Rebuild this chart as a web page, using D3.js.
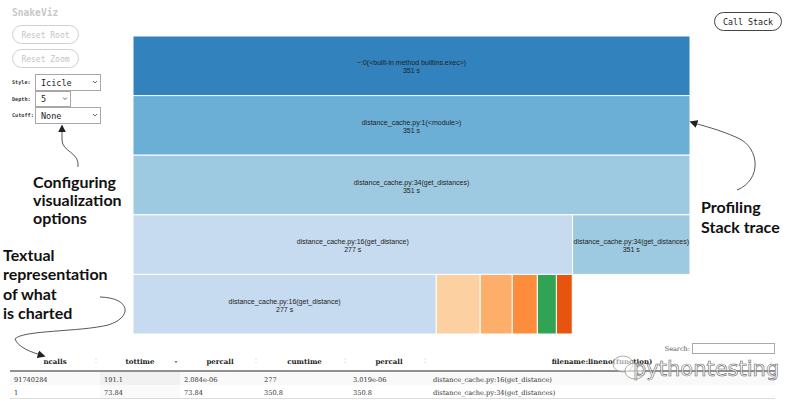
<!DOCTYPE html>
<html><head><meta charset="utf-8">
<script src="https://cdn.jsdelivr.net/npm/d3@7"></script>
<style>
html,body{margin:0;padding:0;background:#fff;}
svg{display:block;}
</style></head>
<body>
<svg id="chart" width="788" height="401"></svg>
<script>
// ---------------- DATA ----------------
// icicle nodes (depth, name, width value in seconds, label time)
const nodeDepths = [0, 1, 2, 3, 3, 4, 4, 4, 4, 4, 4];
const nodeNames = [
  "~:0(<built-in method builtins.exec>)",
  "distance_cache.py:1(<module>)",
  "distance_cache.py:34(get_distances)",
  "distance_cache.py:16(get_distance)",
  "distance_cache.py:34(get_distances)",
  "distance_cache.py:16(get_distance)",
  "", "", "", "", ""
];
const nodeValues = [351, 351, 351, 277, 74, 191.1, 27.7, 20.2, 15.8, 12.0, 10.0];
const nodeTimes = ["351 s", "351 s", "351 s", "277 s", "351 s", "277 s", "", "", "", "", ""];
const nodeColorIndex = [0, 1, 2, 3, 2, 3, 7, 6, 5, 8, 4];
const totalTime = 351;
const depthLevels = [0, 1, 2, 3, 4];

// stats table
const tableColumns = ["ncalls", "tottime", "percall", "cumtime", "percall", "filename:lineno(function)"];
const colNcalls = ["91740284", "1"];
const colTottime = ["191.1", "73.84"];
const colPercall1 = ["2.084e-06", "73.84"];
const colCumtime = ["277", "350.8"];
const colPercall2 = ["3.019e-06", "350.8"];
const colFunction = ["distance_cache.py:16(get_distance)", "distance_cache.py:34(get_distances)"];

// annotations
const annoConfig = ["Configuring", "visualization", "options"];
const annoTextual = ["Textual", "representation", "of what", "is charted"];
const annoProfiling = ["Profiling", "Stack trace"];

// ---------------- STYLE ----------------
const palette = ["#3182bd", "#6baed6", "#9ecae1", "#c6dbef", "#e6550d", "#fd8d3c", "#fdae6b", "#fdd0a2", "#31a354"];
const svg = d3.select("#chart");
const mono = "'DejaVu Sans Mono', monospace";
const serif = "'DejaVu Serif', serif";
const anno = "Lato, 'Open Sans', sans-serif";

// ---------------- ICICLE ----------------
const x = d3.scaleLinear().domain([0, totalTime]).range([133, 690]);
const y = d3.scaleBand().domain(depthLevels).range([36, 334]).padding(0);

// cumulative offsets per depth
const offsets = {};
const nodes = nodeNames.map((n, i) => {
  const d = nodeDepths[i];
  const x0 = offsets[d] || 0;
  offsets[d] = x0 + nodeValues[i];
  return {name: n, depth: d, x0: x0, x1: x0 + nodeValues[i], time: nodeTimes[i], c: palette[nodeColorIndex[i]]};
});

const g = svg.append("g");
const cells = g.selectAll("g.cell").data(nodes).join("g").attr("class", "cell");
cells.append("rect")
  .attr("x", d => x(d.x0))
  .attr("y", d => y(d.depth))
  .attr("width", d => x(d.x1) - x(d.x0))
  .attr("height", y.bandwidth())
  .attr("fill", d => d.c)
  .attr("stroke", "#fff")
  .attr("stroke-width", 1);
const lab = cells.filter(d => d.name !== "").append("text")
  .attr("x", d => (x(d.x0) + x(d.x1)) / 2)
  .attr("y", d => y(d.depth) + y.bandwidth() / 2)
  .attr("text-anchor", "middle")
  .attr("font-family", "'Liberation Sans', Arial, sans-serif")
  .attr("font-size", 7)
  .attr("fill", "#222");
lab.append("tspan").attr("x", d => (x(d.x0) + x(d.x1)) / 2).attr("dy", -0.5).text(d => d.name);
lab.append("tspan").attr("x", d => (x(d.x0) + x(d.x1)) / 2).attr("dy", 8).text(d => d.time);

// ---------------- CONTROLS ----------------
svg.append("text").attr("x", 12).attr("y", 16).text("SnakeViz")
  .attr("font-family", mono).attr("font-size", 9.6).attr("font-weight", "bold").attr("fill", "#c8c8c8");
[["Reset Root", 25], ["Reset Zoom", 49]].forEach(([t, yy]) => {
  svg.append("rect").attr("x", 12.5).attr("y", yy + 0.5).attr("width", 66).attr("height", 18).attr("rx", 9)
    .attr("fill", "#fff").attr("stroke", "#d0d0d0");
  svg.append("text").attr("x", 45.5).attr("y", yy + 12.5).attr("text-anchor", "middle").text(t)
    .attr("font-family", mono).attr("font-size", 8).attr("fill", "#c4c4c4");
});
const selects = [["Style:", "Icicle", 74, 65, 16], ["Depth:", "5", 91, 35, 15], ["Cutoff:", "None", 107, 65, 16]];
selects.forEach(([l, v, yy, w, h]) => {
  svg.append("text").attr("x", 12).attr("y", yy + h / 2 + 2).text(l)
    .attr("font-family", mono).attr("font-size", 5.2).attr("font-weight", "bold").attr("fill", "#333");
  svg.append("rect").attr("x", 35.5).attr("y", yy + 0.5).attr("width", w).attr("height", h)
    .attr("fill", "#fff").attr("stroke", "#a8a8a8");
  svg.append("text").attr("x", 41).attr("y", yy + h / 2 + 3.5).text(v)
    .attr("font-family", mono).attr("font-size", 8.5).attr("fill", "#222");
  svg.append("path").attr("d", `M${35 + w - 7},${yy + h / 2 - 1} l2,2 l2,-2`)
    .attr("fill", "none").attr("stroke", "#444").attr("stroke-width", 0.8);
});
// Call Stack button
svg.append("rect").attr("x", 714.5).attr("y", 12.5).attr("width", 67).attr("height", 18).attr("rx", 9)
  .attr("fill", "#fff").attr("stroke", "#444");
svg.append("text").attr("x", 748).attr("y", 24.5).attr("text-anchor", "middle").text("Call Stack")
  .attr("font-family", mono).attr("font-size", 8.3).attr("fill", "#222");

// ---------------- TABLE ----------------
const colX = [10, 100, 180, 260, 349, 429, 775];
const rowsData = colNcalls.map((_, i) => [colNcalls[i], colTottime[i], colPercall1[i], colCumtime[i], colPercall2[i], colFunction[i]]);
const tg = svg.append("g");
// row backgrounds
rowsData.forEach((r, i) => {
  const ry = 372 + i * 13;
  tg.append("rect").attr("x", colX[0]).attr("y", ry).attr("width", colX[6] - colX[0]).attr("height", 13)
    .attr("fill", i % 2 === 0 ? "#f9f9f9" : "#fff");
  tg.append("rect").attr("x", colX[1]).attr("y", ry).attr("width", colX[2] - colX[1]).attr("height", 13)
    .attr("fill", i % 2 === 0 ? "#f1f1f1" : "#fafafa");
  tg.append("line").attr("x1", colX[0]).attr("x2", colX[6]).attr("y1", ry + 13.5).attr("y2", ry + 13.5)
    .attr("stroke", "#ddd");
  r.forEach((v, j) => {
    tg.append("text").attr("x", colX[j] + 4).attr("y", ry + 9.5).text(v)
      .attr("font-family", serif).attr("font-size", 6.6).attr("fill", "#333");
  });
});
tg.append("line").attr("x1", colX[0]).attr("x2", colX[6]).attr("y1", 371).attr("y2", 371)
  .attr("stroke", "#222").attr("stroke-width", 1);
tableColumns.forEach((c, j) => {
  tg.append("text").attr("x", (colX[j] + colX[j + 1]) / 2).attr("y", 364).attr("text-anchor", "middle").text(c)
    .attr("font-family", serif).attr("font-size", 7).attr("font-weight", "bold").attr("fill", "#222");
  const ix = colX[j + 1] - 4;
  if (j === 1) {
    tg.append("path").attr("d", `M${ix - 1.5},${361} l3,0 l-1.5,2.5z`).attr("fill", "#6a7fbf");
  } else {
    tg.append("path").attr("d", `M${ix - 1},${359.5} l2,0 l-1,-1.5z M${ix - 1},${362} l2,0 l-1,1.5z`).attr("fill", "#ddd");
  }
});
svg.append("text").attr("x", 690).attr("y", 351).attr("text-anchor", "end").text("Search:")
  .attr("font-family", serif).attr("font-size", 6.5).attr("fill", "#555");
svg.append("rect").attr("x", 692.5).attr("y", 343.5).attr("width", 82).attr("height", 10)
  .attr("fill", "#fff").attr("stroke", "#aaa");

// ---------------- WATERMARK ----------------
const wm = svg.append("g").attr("fill", "rgba(255,255,255,0.6)").attr("stroke", "#777").attr("stroke-width", 0.6);
wm.append("ellipse").attr("cx", 623).attr("cy", 364).attr("rx", 10).attr("ry", 8);
wm.append("ellipse").attr("cx", 635).attr("cy", 371).attr("rx", 10).attr("ry", 8);
svg.append("text").attr("x", 633).attr("y", 376).text("pythontesting")
  .attr("font-family", "'DejaVu Sans', sans-serif").attr("font-size", 21)
  .attr("fill", "rgba(255,255,255,0.7)").attr("stroke", "#666").attr("stroke-width", 0.6);

// ---------------- ANNOTATIONS ----------------
svg.append("defs").append("marker").attr("id", "ah").attr("viewBox", "0 0 10 10")
  .attr("refX", 8).attr("refY", 5).attr("markerWidth", 8).attr("markerHeight", 8)
  .attr("orient", "auto-start-reverse").attr("markerUnits", "userSpaceOnUse")
  .append("path").attr("d", "M0,0 L10,5 L0,10 z").attr("fill", "#222");
const arrowStyle = s => s.attr("fill", "none").attr("stroke", "#444").attr("stroke-width", 0.9).attr("marker-end", "url(#ah)");
arrowStyle(svg.append("path").attr("d", "M78,167 C80,152 62,152 62,140 L62,126"));
arrowStyle(svg.append("path").attr("d", "M100,297 C132,298 132,318 108,325 C80,332 22,330 15,339 C18,347 30,352 44,356"));
arrowStyle(svg.append("path").attr("d", "M737,190 C762,180 760,148 738,138 C718,129 703,126 691,122"));

function block(lines, x0, y0, lh) {
  const t = svg.append("text").attr("font-family", anno).attr("font-weight", "bold")
    .attr("font-size", 16).attr("fill", "#111");
  lines.forEach((l, i) => t.append("tspan").attr("x", x0).attr("y", y0 + i * lh).text(l));
}
block(annoConfig, 33, 188, 18);
block(annoTextual, 3, 261, 19.3);
block(annoProfiling, 701, 213, 20);
</script>
</body></html>
